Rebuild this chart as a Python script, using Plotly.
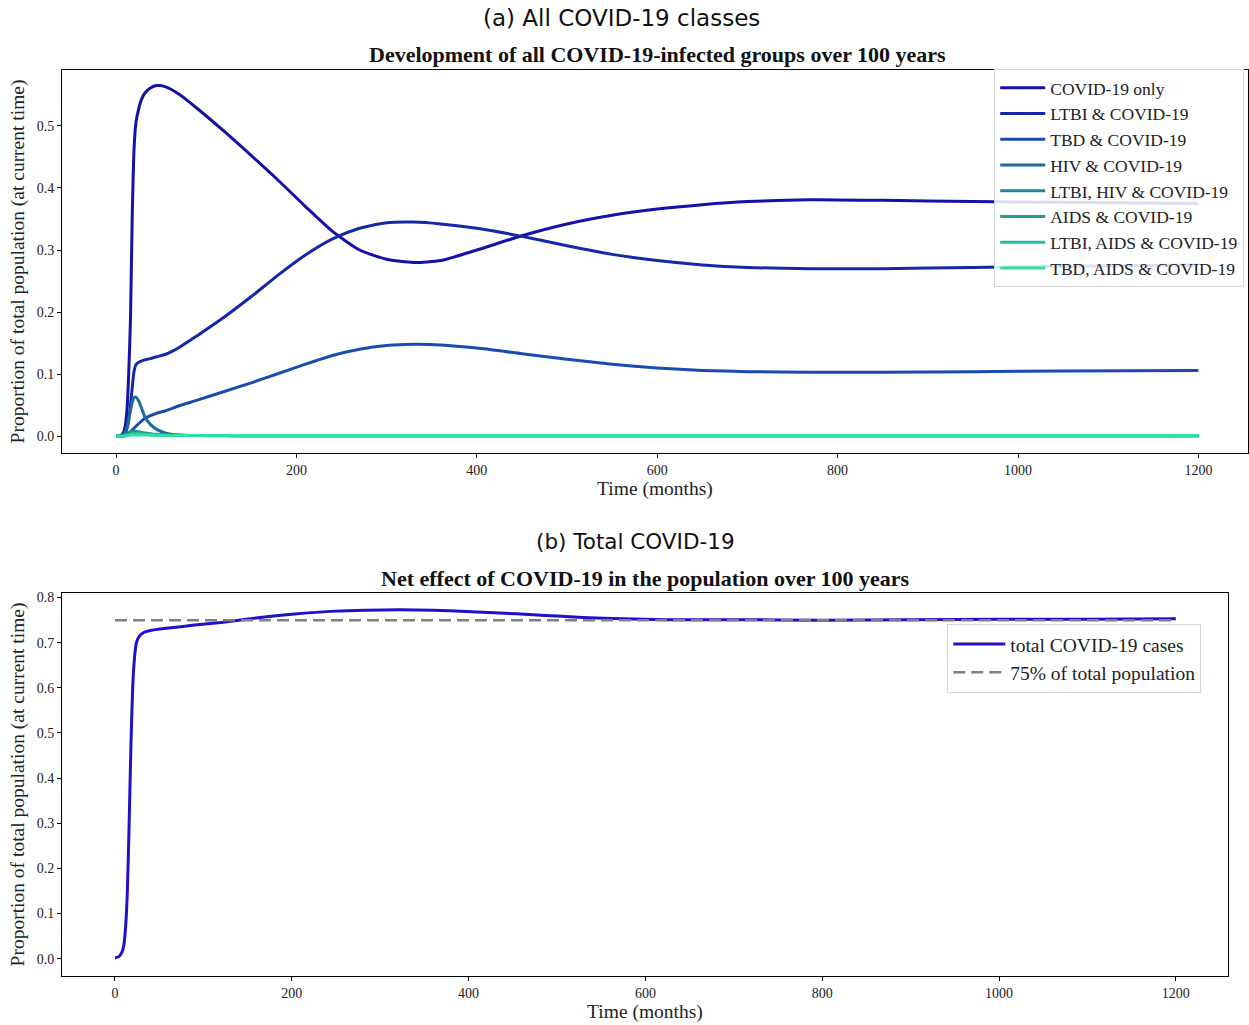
import plotly.graph_objects as go

# ---- (a) all COVID-19 infected classes, time in months ----
t_months = [0, 5, 8, 10, 12, 14, 16, 18, 20, 22, 25, 28, 32, 38, 45, 55, 70, 90, 120, 150,
            180, 210, 240, 270, 300, 330, 360, 400, 450, 500, 550, 600, 650, 700, 770, 850,
            950, 1050, 1200]

covid_only = [0.0, 0.001, 0.005, 0.015, 0.04, 0.10, 0.19, 0.36, 0.465, 0.505, 0.527, 0.542,
              0.553, 0.561, 0.565, 0.563, 0.551, 0.528, 0.491, 0.452, 0.412, 0.370, 0.330,
              0.300, 0.285, 0.280, 0.283, 0.300, 0.323, 0.342, 0.356, 0.366, 0.373, 0.378,
              0.381, 0.380, 0.378, 0.377, 0.375]

ltbi_covid = [0.0, 0.0, 0.002, 0.005, 0.012, 0.025, 0.05, 0.08, 0.105, 0.115, 0.119, 0.121,
              0.123, 0.125, 0.128, 0.132, 0.143, 0.162, 0.192, 0.225, 0.260, 0.292, 0.318,
              0.335, 0.344, 0.345, 0.342, 0.335, 0.322, 0.307, 0.293, 0.283, 0.276, 0.272,
              0.270, 0.270, 0.272, 0.274, 0.276]

tbd_covid = [0.0, 0.0, 0.0, 0.001, 0.002, 0.004, 0.007, 0.010, 0.013, 0.016, 0.020, 0.024,
             0.029, 0.033, 0.037, 0.041, 0.049, 0.058, 0.072, 0.086, 0.101, 0.116, 0.130,
             0.140, 0.146, 0.148, 0.147, 0.142, 0.133, 0.124, 0.116, 0.110, 0.106, 0.104,
             0.103, 0.103, 0.104, 0.105, 0.106]

hiv_covid = [0.0, 0.0, 0.002, 0.006, 0.014, 0.027, 0.042, 0.055, 0.062, 0.063, 0.057, 0.046,
             0.031, 0.019, 0.011, 0.005, 0.002, 0.001, 0.0005, 0.0003, 0.0003, 0.0003, 0.0003,
             0.0003, 0.0003, 0.0003, 0.0003, 0.0003, 0.0003, 0.0003, 0.0003, 0.0003, 0.0003,
             0.0003, 0.0003, 0.0003, 0.0003, 0.0003, 0.0003]

ltbi_hiv_covid = [0.0, 0.0, 0.001, 0.002, 0.004, 0.006, 0.007, 0.008, 0.008, 0.008, 0.007,
                  0.006, 0.005, 0.004, 0.003, 0.002, 0.0015, 0.001, 0.001, 0.001, 0.001,
                  0.001, 0.001, 0.001, 0.001, 0.001, 0.001, 0.001, 0.001, 0.001, 0.001,
                  0.001, 0.001, 0.001, 0.001, 0.001, 0.001, 0.001, 0.001]

aids_covid = [0.0, 0.0, 0.0, 0.001, 0.002, 0.003, 0.004, 0.005, 0.005, 0.005, 0.005, 0.004,
              0.004, 0.003, 0.002, 0.0015, 0.001, 0.001, 0.001, 0.001, 0.001, 0.001, 0.001,
              0.001, 0.001, 0.001, 0.001, 0.001, 0.001, 0.001, 0.001, 0.001, 0.001, 0.001,
              0.001, 0.001, 0.001, 0.001, 0.001]

ltbi_aids_covid = [0.0, 0.0, 0.0, 0.001, 0.001, 0.002, 0.003, 0.004, 0.004, 0.004, 0.004,
                   0.003, 0.003, 0.002, 0.002, 0.0015, 0.001, 0.001, 0.001, 0.001, 0.001,
                   0.001, 0.001, 0.001, 0.001, 0.001, 0.001, 0.001, 0.001, 0.001, 0.001,
                   0.001, 0.001, 0.001, 0.001, 0.001, 0.001, 0.001, 0.001]

tbd_aids_covid = [0.0, 0.0, 0.0, 0.0, 0.001, 0.001, 0.002, 0.002, 0.002, 0.002, 0.002, 0.002,
                  0.002, 0.002, 0.0015, 0.001, 0.001, 0.001, 0.001, 0.001, 0.001, 0.001,
                  0.001, 0.001, 0.001, 0.001, 0.001, 0.001, 0.001, 0.001, 0.001, 0.001,
                  0.001, 0.001, 0.001, 0.001, 0.001, 0.001, 0.001]

class_names = ["COVID-19 only", "LTBI & COVID-19", "TBD & COVID-19", "HIV & COVID-19",
               "LTBI, HIV & COVID-19", "AIDS & COVID-19", "LTBI, AIDS & COVID-19",
               "TBD, AIDS & COVID-19"]
class_series = [covid_only, ltbi_covid, tbd_covid, hiv_covid, ltbi_hiv_covid, aids_covid,
                ltbi_aids_covid, tbd_aids_covid]
class_colors = ["#1410a8", "#1428a8", "#1a4cb0", "#1e6a9c", "#1f8a94", "#1ea088",
                "#22c098", "#2ee09e"]

# ---- (b) total COVID-19 ----
t_total = [0, 4, 8, 10, 12, 14, 16, 18, 20, 22, 24, 27, 32, 40, 58, 90, 120, 164, 200, 250,
           284, 322, 360, 397, 435, 473, 500, 529, 575, 623, 700, 800, 900, 1000, 1100, 1200]
total_covid = [0.002, 0.004, 0.015, 0.03, 0.07, 0.15, 0.30, 0.47, 0.60, 0.665, 0.698, 0.713,
               0.722, 0.727, 0.732, 0.739, 0.745, 0.756, 0.763, 0.770, 0.772, 0.773, 0.772,
               0.769, 0.766, 0.762, 0.759, 0.756, 0.753, 0.751, 0.751, 0.750, 0.751, 0.752,
               0.752, 0.753]
reference_level = 0.75
reference_t = [0, 1200]

W, H = 1249, 1025
SERIF = "Liberation Serif, Times New Roman, serif"
SANS = "DejaVu Sans, sans-serif"


def px_x(p):
    return p / W


def px_y(p):
    return 1 - p / H


fig = go.Figure()

for name, vals, col in zip(class_names, class_series, class_colors):
    fig.add_trace(go.Scatter(
        x=t_months, y=vals, name=name, mode="lines", legendgroup=name,
        line=dict(color=col, width=3, shape="spline", smoothing=0.6),
        xaxis="x", yaxis="y", legend="legend",
    ))

fig.add_trace(go.Scatter(
    x=t_total, y=total_covid, name="total COVID-19 cases", mode="lines",
    legendgroup="total",
    line=dict(color="#2010c8", width=3, shape="spline", smoothing=0.6),
    xaxis="x2", yaxis="y2", legend="legend2",
))
fig.add_trace(go.Scatter(
    x=reference_t, y=[reference_level, reference_level], name="75% of total population",
    mode="lines", legendgroup="ref", line=dict(color="#808080", width=2.5, dash="12px,6px"),
    xaxis="x2", yaxis="y2", legend="legend2",
))

axis_common = dict(
    showline=True, linecolor="black", linewidth=1, mirror=True,
    ticks="outside", ticklen=4, tickcolor="black", showgrid=False, zeroline=False,
    tickfont=dict(family=SERIF, size=14, color="#222"),
)

fig.update_layout(
    width=W, height=H,
    margin=dict(l=0, r=0, t=0, b=0),
    paper_bgcolor="white", plot_bgcolor="white",
    showlegend=True,
    xaxis=dict(axis_common, domain=[px_x(62), 1.0], range=[-60, 1255],
               tickvals=[0, 200, 400, 600, 800, 1000, 1200], anchor="y",
               title=dict(text="Time (months)", font=dict(family=SERIF, size=19.5, color="#222"),
                          standoff=4)),
    yaxis=dict(axis_common, domain=[px_y(452), px_y(68)], range=[-0.0273, 0.5903],
               tickvals=[0, 0.1, 0.2, 0.3, 0.4, 0.5], tickformat=".1f", anchor="x",
               title=dict(text="Proportion of total population (at current time)",
                          font=dict(family=SERIF, size=19.5, color="#222"), standoff=6)),
    xaxis2=dict(axis_common, domain=[px_x(62), px_x(1229)], range=[-60, 1259],
                tickvals=[0, 200, 400, 600, 800, 1000, 1200], anchor="y2",
                title=dict(text="Time (months)", font=dict(family=SERIF, size=19.5, color="#222"),
                           standoff=4)),
    yaxis2=dict(axis_common, domain=[px_y(976), px_y(592)], range=[-0.0386, 0.8105],
                tickvals=[0, 0.1, 0.2, 0.3, 0.4, 0.5, 0.6, 0.7, 0.8], tickformat=".1f",
                anchor="x2",
                title=dict(text="Proportion of total population (at current time)",
                           font=dict(family=SERIF, size=19.5, color="#222"), standoff=6)),
    legend=dict(x=px_x(995), y=px_y(67), xanchor="left", yanchor="top",
                traceorder="grouped", tracegroupgap=0, itemwidth=45,
                bgcolor="rgba(255,255,255,0.85)", bordercolor="#d5d5d5", borderwidth=1,
                font=dict(family=SERIF, size=17.5, color="#222")),
    legend2=dict(x=px_x(948), y=px_y(623), xanchor="left", yanchor="top",
                 traceorder="grouped", tracegroupgap=0, itemwidth=52,
                 bgcolor="rgba(255,255,255,0.85)", bordercolor="#d5d5d5", borderwidth=1,
                 font=dict(family=SERIF, size=19.5, color="#222")),
    annotations=[
        dict(text="(a) All COVID-19 classes", x=px_x(622), y=px_y(16), xref="paper",
             yref="paper", showarrow=False, xanchor="center", yanchor="middle",
             font=dict(family=SANS, size=23, color="#111")),
        dict(text="<b>Development of all COVID-19-infected groups over 100 years</b>",
             x=px_x(658), y=px_y(53), xref="paper", yref="paper", showarrow=False,
             xanchor="center", yanchor="middle",
             font=dict(family=SERIF, size=22, color="#111")),
        dict(text="(b) Total COVID-19", x=px_x(636), y=px_y(541), xref="paper",
             yref="paper", showarrow=False, xanchor="center", yanchor="middle",
             font=dict(family=SANS, size=21.5, color="#111")),
        dict(text="<b>Net effect of COVID-19 in the population over 100 years</b>",
             x=px_x(646), y=px_y(578), xref="paper", yref="paper", showarrow=False,
             xanchor="center", yanchor="middle",
             font=dict(family=SERIF, size=22, color="#111")),
    ],
)

fig.write_html("out.html")
